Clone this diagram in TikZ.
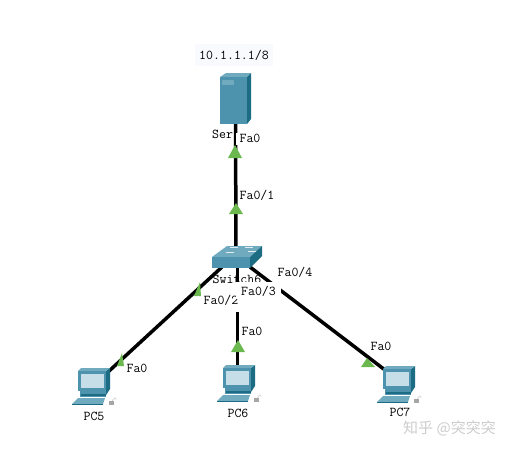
\documentclass[tikz,border=0pt]{standalone}
\usepackage{xcolor}
\usepackage{fontspec}
\usepackage{tikz}
\usetikzlibrary{positioning,calc}
\newfontfamily\cjkwm{Noto Sans CJK SC}
\definecolor{myfront}{RGB}{78,147,173}
\definecolor{myside}{RGB}{28,108,132}
\definecolor{mytop}{RGB}{112,170,190}
\definecolor{myscreen}{RGB}{198,222,232}
\definecolor{mygreen}{RGB}{106,184,78}
\definecolor{mywater}{RGB}{205,205,205}
\definecolor{myhalo}{RGB}{249,250,253}
\tikzset{
  link/.style={line width=3.5pt, black},
  portup/.style={fill=mygreen},
  devlabel/.style={font=\ttfamily\fontsize{13.5}{13.5}\selectfont, inner sep=0pt},
  portlabel/.style={devlabel, fill=white, inner xsep=1pt, text height=9pt, text depth=3pt},
  pics/pcbox/.style={code={
    \fill[myside] (28,0) -- (32,-3) -- (32,18) -- (28,24) -- cycle;
    \fill[mytop] (0,0) -- (3,-3) -- (32,-3) -- (28,0) -- cycle;
    \fill[myfront] (0,0) rectangle (28,20);
    \fill[myscreen] (2.5,3) rectangle (26,17);
    \fill[myfront] (2,20) -- (28,20) -- (28,26) -- (2,26) -- cycle;
    \fill[myside] (3,23) rectangle (28,25);
    \fill[mytop] (-6,33) -- (0,27) -- (27,27) -- (25,33) -- cycle;
    \fill[myside] (-6,33) rectangle (25,34);
    \fill[gray!70] (31,30) rectangle (36,34);
    \draw[gray!40, line width=0.6pt] (34,30) .. controls (37,26) and (38,26) .. (38,29);
  }}
}
\begin{document}
\begin{tikzpicture}[x=1pt, y=-1pt]
  \useasboundingbox (0,0) rectangle (511,450);
  % Device names lie under the links
  \fill[myhalo] (195,44) rectangle (273,66);
  \node[devlabel] (ipaddr) at (234,55) {10.1.1.1/8};
  \node[devlabel, anchor=west] (srvname) at (212,134) {Ser};
  \node[devlabel] (swname) at (237,279) {Switch6};
  \node[devlabel] (pc5name) at (94,416) {PC5};
  \node[devlabel] (pc6name) at (238,413) {PC6};
  \node[devlabel] (pc7name) at (400,412) {PC7};
  % Link ends
  \coordinate (srvport) at (235.5,122);
  \coordinate (swup) at (236,250);
  \coordinate (swleft) at (222,267);
  \coordinate (swdown) at (237.5,266);
  \coordinate (swright) at (250,267);
  \coordinate (pc5port) at (108,372);
  \coordinate (pc6port) at (237.5,370);
  \coordinate (pc7port) at (385,370);
  % Links
  \draw[link] (srvport) -- (swup);
  \draw[link] (swleft) -- (pc5port);
  \draw[link] (swdown) -- (pc6port);
  \draw[link] (swright) -- (pc7port);
  % Port labels hide what lies under them
  \foreach \n/\x/\y/\lbl in {b/257/196/{Fa0/1}, c/295/273/{Fa0/4}, f/137/369/{Fa0}, g/252/332/{Fa0}, h/381/347/{Fa0}}{
    \node[portlabel] (port\n) at (\x,\y) {\lbl};
  }
  \node[portlabel, inner xsep=3.5pt] (porta) at (250,139) {Fa0};
  \node[portlabel, anchor=base, inner xsep=3pt, text height=10pt, text depth=8pt] (portd) at (221,304) {Fa0/2};
  \node[portlabel, anchor=base, inner xsep=5pt, text height=13.5pt, text depth=3.5pt] (porte) at (258.5,295) {Fa0/3};
  % Port lights
  \foreach \ax/\ay/\bx/\by/\cx/\cy in {235/145/228/158/242/158, 236/203/229/214/243/214, 200/282/194/296/201/296, 238/340/231/352/245/352, 122/353/117/366/124/366, 367/358/361/367/375/367}{
    \fill[portup] (\ax,\ay) -- (\bx,\by) -- (\cx,\cy) -- cycle;
  }
  % Server
  \fill[mytop] (220,77) -- (226,73) -- (251,73) -- (247,77) -- cycle;
  \fill[myside] (247,77) -- (251,73) -- (251,119) -- (247,124) -- cycle;
  \fill[myfront] (220,77) rectangle (247,124);
  \fill[mytop] (222,80) rectangle (234,85);
  % Switch
  \fill[mytop] (212,257) -- (227,246) -- (262,246) -- (250,257) -- cycle;
  \fill[myside] (250,257) -- (262,246) -- (262,256) -- (250,268) -- cycle;
  \fill[myfront] (212,257) rectangle (250,268);
  \foreach \x/\y in {226/253, 230/248, 245/248, 248/252}{
    \fill[white!80!mytop] (\x,\y) rectangle ++(8,-1);
  }
  % PCs
  \pic at (78,371) {pcbox};
  \pic at (223,368) {pcbox};
  \pic at (383,369) {pcbox};
  % Watermark
  \node[inner sep=0pt, text=mywater, font=\cjkwm\fontsize{15}{15}\selectfont] (mark) at (449.5,428) {知乎 @突突突};
\end{tikzpicture}
\end{document}
